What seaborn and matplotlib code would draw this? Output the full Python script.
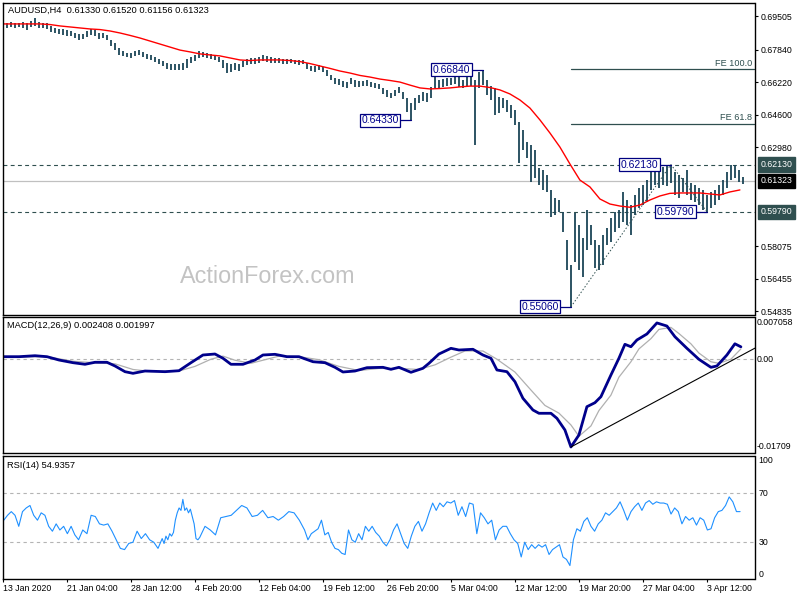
import numpy as np
import matplotlib
matplotlib.use('Agg')
import matplotlib.pyplot as plt
import seaborn as sns

# AUDUSD H4 bars (one reading every second bar)
highs = [0.6922, 0.6917, 0.6922, 0.6917, 0.6917, 0.6922, 0.6917, 0.6927, 0.6942, 0.6922,
         0.6917, 0.6917, 0.6902, 0.6892, 0.6887, 0.6887, 0.6882, 0.6877, 0.6867, 0.6862,
         0.6862, 0.6877, 0.6887, 0.6882, 0.6867, 0.6867, 0.6857, 0.6832, 0.6817, 0.6792,
         0.6778, 0.6768, 0.6768, 0.6778, 0.6782, 0.6773, 0.6763, 0.6758, 0.6748, 0.6738,
         0.6728, 0.6718, 0.6713, 0.6713, 0.6713, 0.6718, 0.6738, 0.6748, 0.6758, 0.6778,
         0.6773, 0.6768, 0.6763, 0.6758, 0.6748, 0.6733, 0.6718, 0.6713, 0.6718, 0.6713,
         0.6728, 0.6738, 0.6743, 0.6743, 0.6748, 0.6758, 0.6753, 0.6748, 0.6743, 0.6743,
         0.6738, 0.6738, 0.6738, 0.6733, 0.6733, 0.6733, 0.6718, 0.6703, 0.6703, 0.6708,
         0.6698, 0.6683, 0.6658, 0.6643, 0.6638, 0.6628, 0.6623, 0.6643, 0.6633, 0.6628,
         0.6628, 0.6633, 0.6623, 0.6618, 0.6613, 0.6594, 0.6584, 0.6569, 0.6584, 0.6599,
         0.6574, 0.6544, 0.6519, 0.6544, 0.6559, 0.6574, 0.6569, 0.6599, 0.6658, 0.6633,
         0.6638, 0.6643, 0.6643, 0.6653, 0.6648, 0.6633, 0.6668, 0.6658, 0.6633, 0.6673,
         0.6684, 0.6633, 0.6603, 0.6594, 0.6549, 0.6544, 0.6534, 0.6509, 0.6484, 0.6425,
         0.6385, 0.6325, 0.6310, 0.6286, 0.6196, 0.6186, 0.6161, 0.6087, 0.6047, 0.6037,
         0.5977, 0.5838, 0.5714, 0.5972, 0.5913, 0.5848, 0.5987, 0.5913, 0.5838, 0.5813,
         0.5863, 0.5898, 0.5948, 0.5977, 0.5987, 0.6077, 0.6037, 0.6012, 0.6062, 0.6097,
         0.6111, 0.6136, 0.6196, 0.6211, 0.6196, 0.6201, 0.6211, 0.6213, 0.6176, 0.6161,
         0.6146, 0.6186, 0.6121, 0.6111, 0.6097, 0.6087, 0.6062, 0.6077, 0.6087, 0.6111,
         0.6136, 0.6176, 0.6210, 0.6211, 0.6186, 0.6152]
lows = [0.6892, 0.6892, 0.6897, 0.6892, 0.6897, 0.6892, 0.6882, 0.6897, 0.6902, 0.6892,
        0.6892, 0.6887, 0.6872, 0.6867, 0.6862, 0.6857, 0.6852, 0.6852, 0.6842, 0.6832,
        0.6837, 0.6847, 0.6857, 0.6852, 0.6837, 0.6842, 0.6832, 0.6802, 0.6782, 0.6758,
        0.6753, 0.6748, 0.6743, 0.6753, 0.6758, 0.6748, 0.6738, 0.6733, 0.6723, 0.6713,
        0.6703, 0.6688, 0.6683, 0.6683, 0.6683, 0.6683, 0.6693, 0.6718, 0.6728, 0.6743,
        0.6748, 0.6743, 0.6738, 0.6733, 0.6723, 0.6693, 0.6668, 0.6673, 0.6683, 0.6678,
        0.6698, 0.6708, 0.6713, 0.6713, 0.6718, 0.6728, 0.6723, 0.6718, 0.6718, 0.6718,
        0.6713, 0.6713, 0.6718, 0.6713, 0.6708, 0.6713, 0.6688, 0.6678, 0.6673, 0.6683,
        0.6673, 0.6653, 0.6633, 0.6613, 0.6608, 0.6599, 0.6594, 0.6613, 0.6599, 0.6599,
        0.6603, 0.6603, 0.6599, 0.6594, 0.6589, 0.6564, 0.6549, 0.6544, 0.6554, 0.6569,
        0.6539, 0.6474, 0.6433, 0.6484, 0.6519, 0.6529, 0.6524, 0.6544, 0.6594, 0.6589,
        0.6599, 0.6603, 0.6608, 0.6613, 0.6599, 0.6594, 0.6603, 0.6603, 0.6310, 0.6594,
        0.6608, 0.6559, 0.6534, 0.6459, 0.6469, 0.6494, 0.6474, 0.6445, 0.6410, 0.6221,
        0.6286, 0.6246, 0.6126, 0.6146, 0.6111, 0.6087, 0.6077, 0.5953, 0.5962, 0.5977,
        0.5878, 0.5689, 0.5506, 0.5729, 0.5689, 0.5654, 0.5788, 0.5813, 0.5699, 0.5689,
        0.5714, 0.5813, 0.5828, 0.5878, 0.5898, 0.5928, 0.5913, 0.5863, 0.5962, 0.5997,
        0.6012, 0.6027, 0.6087, 0.6111, 0.6097, 0.6111, 0.6107, 0.6121, 0.6062, 0.6047,
        0.6077, 0.6062, 0.6037, 0.6027, 0.6012, 0.5987, 0.5979, 0.5997, 0.6012, 0.6037,
        0.6062, 0.6097, 0.6136, 0.6146, 0.6126, 0.6116]

# red moving average, one reading every 2.5 bars
ma_vals = [0.6912, 0.6912, 0.6912, 0.6912, 0.6912, 0.6909, 0.6902, 0.6897, 0.6892, 0.6887,
           0.6884, 0.6877, 0.6867, 0.6855, 0.6842, 0.6827, 0.6812, 0.6797, 0.6782, 0.6773,
           0.6763, 0.6758, 0.6753, 0.6743, 0.6733, 0.6730, 0.6733, 0.6733, 0.6733, 0.6730,
           0.6725, 0.6715, 0.6703, 0.6691, 0.6678, 0.6668, 0.6656, 0.6648, 0.6638, 0.6631,
           0.6623, 0.6608, 0.6594, 0.6589, 0.6591, 0.6594, 0.6599, 0.6603, 0.6603, 0.6596,
           0.6584, 0.6564, 0.6534, 0.6494, 0.6435, 0.6370, 0.6300, 0.6216, 0.6136, 0.6102,
           0.6042, 0.6017, 0.6007, 0.6001, 0.6012, 0.6037, 0.6057, 0.6070, 0.6072, 0.6072,
           0.6072, 0.6067, 0.6062, 0.6077, 0.6087]

# MACD(12,26,9)
macd_bars = [0, 4, 8, 11, 14, 17.5, 20.5, 23, 26, 28, 30.5, 32.5, 35.5, 40.5, 44,
             47, 50, 53, 55, 57, 60, 63, 65, 68, 71, 74, 77.5, 80.5, 83, 85,
             88, 91, 95, 97, 99, 102, 105, 106.5, 109, 112, 114, 117.5, 120, 122, 123.5,
             126, 128, 130, 132.5, 134, 137, 138.5, 140.5, 142, 144, 146, 148, 149.5, 152, 154,
             155.5, 157, 158.5, 161, 163.5, 166, 168, 171, 174, 177, 178.5, 181, 183, 184.5]
macd_vals = [0.00049, 0.00049, 0.00068, 0.00049, -0.00016, -0.00068, -0.00099, -0.00060, -0.00060, -0.00132,
             -0.00243, -0.00275, -0.00230, -0.00243, -0.00224, -0.00068, 0.00082, 0.00101, 0.00018, -0.00099,
             -0.00099, -0.00016, 0.00082, 0.00095, 0.00049, 0.00049, -0.00049, -0.00068, -0.00158, -0.00249,
             -0.00230, -0.00165, -0.00158, -0.00197, -0.00158, -0.00255, -0.00177, -0.00080, 0.00101, 0.00212,
             0.00179, 0.00193, 0.00082, 0.00018, -0.00210, -0.00243, -0.00438, -0.00761, -0.00989, -0.01053,
             -0.01053, -0.01151, -0.01378, -0.01709, -0.01476, -0.00925, -0.00847, -0.00730, -0.00308, 0.00018,
             0.00290, 0.00243, 0.00374, 0.00491, 0.00706, 0.00646, 0.00438, 0.00212, -0.00002, -0.00158,
             -0.00132, 0.00082, 0.00300, 0.00241]
sig_bars = [0, 11, 17.5, 23, 28, 32.5, 37, 44, 48, 52, 55, 58, 62, 65, 69, 74, 79, 84, 89, 94,
            99, 104, 108, 112, 115.5, 120, 123.5, 128, 132, 135.5, 139, 142, 144, 147, 149, 152, 154,
            157, 159, 162, 164, 167, 169, 172, 174, 177, 179, 182, 184.5]
sig_vals = [0.0004, 0.0005, -0.0004, -0.0007, -0.0009, -0.0020, -0.0024, -0.0023, -0.0014, 0.0000,
            0.0006, -0.0002, -0.0008, -0.0002, 0.0006, 0.0005, -0.0001, -0.0014, -0.0022, -0.0018,
            -0.0018, -0.0020, -0.0011, 0.0004, 0.0016, 0.0016, 0.0000, -0.0025, -0.0060, -0.0090,
            -0.0105, -0.0128, -0.0150, -0.0130, -0.0100, -0.0070, -0.0035, -0.0005, 0.0020, 0.0040,
            0.0058, 0.0062, 0.0050, 0.0030, 0.0012, -0.0005, -0.0008, 0.0000, 0.0020]
macd_trend_bars = [142, 188]
macd_trend_vals = [-0.01709, 0.00215]

# RSI(14)
rsi_vals = [48, 52, 55, 52, 43, 55, 58, 60, 52, 48, 54, 52, 43, 39, 45, 40, 43, 37, 43, 36,
            32, 40, 37, 52, 51, 45, 44, 45, 39, 32, 25, 24, 29, 30, 39, 33, 37, 32, 30, 25,
            33, 29, 35, 32, 37, 35, 38, 48, 54, 58, 56, 65, 56, 58, 54, 57, 51, 45, 33, 32,
            34, 43, 40, 36, 50, 51, 52, 56, 60, 58, 51, 52, 56, 50, 51, 48, 51, 55, 54, 48,
            40, 32, 37, 39, 41, 48, 36, 38, 30, 25, 24, 21, 20, 40, 32, 30, 37, 32, 43, 39,
            43, 38, 35, 30, 27, 32, 40, 45, 37, 29, 25, 35, 43, 47, 39, 45, 54, 62, 56, 62,
            59, 63, 62, 64, 52, 59, 51, 62, 61, 37, 54, 50, 45, 48, 32, 40, 43, 43, 37, 32,
            29, 18, 30, 24, 28, 25, 28, 26, 28, 20, 24, 26, 28, 18, 16, 11, 32, 41, 39, 47,
            50, 43, 39, 45, 48, 54, 52, 55, 58, 63, 56, 48, 55, 59, 62, 56, 62, 64, 61, 63,
            62, 62, 61, 53, 58, 55, 45, 51, 48, 50, 44, 50, 48, 40, 41, 50, 55, 56, 60, 67,
            63, 55, 55]
rsi_anchor_idx = [0, 20, 40, 60, 80, 100, 120, 140, 160, 180, 202]
rsi_anchor_bar = [0.2, 18.9, 39.8, 49.2, 75.4, 92.3, 110.1, 128.7, 146.1, 164.3, 184.3]

date_labels = ['13 Jan 2020', '21 Jan 04:00', '28 Jan 12:00', '4 Feb 20:00', '12 Feb 04:00',
               '19 Feb 12:00', '26 Feb 20:00', '5 Mar 04:00', '12 Mar 12:00', '19 Mar 20:00',
               '27 Mar 04:00', '3 Apr 12:00']
price_ticks = [0.69505, 0.67840, 0.66220, 0.64600, 0.62980, 0.58075, 0.56455, 0.54835]

swing_bars = [102, 120, 142, 167, 176]
swing_prices = [0.6433, 0.6684, 0.5506, 0.6213, 0.5979]
fe_ratios = [0.618, 1.0]
fe_names = ['FE 61.8', 'FE 100.0']
last_price = 0.61323

sns.set_theme(style='white')
plt.rcParams['font.family'] = ['Liberation Sans', 'DejaVu Sans']

BAR = '#1b4557'
SLATE = '#2f4f4f'
NAVY = '#000080'
XMIN, XMAX = -0.125, 187.9
FS = 6.3

fig = plt.figure(figsize=(8, 6), dpi=100)
ax = fig.add_axes([0.003125, 0.474167, 0.94, 0.520833])
axm = fig.add_axes([0.003125, 0.244167, 0.94, 0.226667])
axr = fig.add_axes([0.003125, 0.035, 0.94, 0.205833])

for a in (ax, axm, axr):
    a.set_xlim(XMIN, XMAX)
    a.set_facecolor('white')
    for s in a.spines.values():
        s.set_visible(True)
        s.set_color('black')
        s.set_linewidth(1.0)

# ---- price panel
ax.set_ylim(0.5463, 0.7016)
ax.axhline(last_price, color='#c0c0c0', lw=0.9)
for p in (0.6213, 0.5979):
    ax.axhline(p, color=SLATE, lw=0.8, ls=(0, (3.5, 3)))

bars = np.arange(len(highs))
ax.vlines(bars, lows, highs, color=BAR, lw=1.3)
ma_pos = np.arange(len(ma_vals)) * 2.5 - 0.75
sns.lineplot(x=ma_pos, y=ma_vals, ax=ax, color='red', linewidth=1.0)

lo1, hi1, lo2 = swing_prices[2], swing_prices[3], swing_prices[4]
for r, name in zip(fe_ratios, fe_names):
    lvl = lo2 + r * (hi1 - lo1)
    ax.plot([swing_bars[2], XMAX], [lvl, lvl], color=SLATE, lw=0.9)
    ax.annotate(name, xy=(XMAX, lvl), xytext=(-1.5, 1.2), textcoords='offset points',
                ha='right', va='bottom', fontsize=6.6, color=SLATE)
ax.plot(swing_bars[2:], swing_prices[2:], color=SLATE, lw=0.7, ls=(0, (1.5, 2)))

for b, p in zip(swing_bars, swing_prices):
    ax.plot([b - 2.75, b], [p, p], color=NAVY, lw=0.9)
    ax.text(b - 3.1, p, f'{p:.5f}', ha='right', va='center', fontsize=7.5, color='#00008b',
            bbox=dict(boxstyle='square,pad=0.15', fc='white', ec=NAVY, lw=0.9))

ax.text(44.25, 0.5626, 'ActionForex.com', fontsize=16.8, color='#c3c3c3',
        family='Liberation Sans', va='baseline', ha='left')

ax.set_xticks([])
ax.yaxis.tick_right()
ax.set_yticks(price_ticks)
ax.set_yticklabels([f'{v:.5f}' for v in price_ticks])
ax.tick_params(axis='y', right=True, left=False, length=2.2, width=0.8, direction='out',
               pad=2.5, labelsize=FS, colors='black')
for p, bg in [(0.6213, SLATE), (last_price, 'black'), (0.5979, SLATE)]:
    ax.text(1.0085, p, f'{p:.5f}', transform=ax.get_yaxis_transform(), ha='left', va='center',
            fontsize=FS, color='white', bbox=dict(boxstyle='square,pad=0.3', fc=bg, ec=bg))

fig.text(0.01, 0.9825, 'AUDUSD,H4  0.61330 0.61520 0.61156 0.61323', fontsize=6.7,
         va='center', ha='left', color='black')

# ---- MACD panel
axm.set_ylim(-0.01836, 0.00812)
axm.axhline(0, color='#b4b4b4', lw=0.8, ls=(0, (3, 3)))
sns.lineplot(x=sig_bars, y=sig_vals, ax=axm, color='#b0b0b0', linewidth=0.9)
sns.lineplot(x=macd_bars, y=macd_vals, ax=axm, color='#00008b', linewidth=2.0)
axm.plot(macd_trend_bars, macd_trend_vals, color='black', lw=0.8)
axm.set_xticks([])
axm.set_yticks([])
for v, s in [(0.007058, '0.007058'), (0.0, '0.00'), (-0.01709, '-0.01709')]:
    axm.text(1.003, v, s, transform=axm.get_yaxis_transform(), ha='left', va='center',
             fontsize=FS, color='black')
fig.text(0.009, 1 - 325.5 / 600, 'MACD(12,26,9) 0.002408 0.001997', fontsize=6.7,
         va='center', ha='left', color='black')

# ---- RSI panel
axr.set_ylim(0, 100.8)
for lvl in (70, 30):
    axr.axhline(lvl, color='#b4b4b4', lw=0.8, ls=(0, (3, 3)))
rsi_pos = np.interp(np.arange(len(rsi_vals)), rsi_anchor_idx, rsi_anchor_bar)
sns.lineplot(x=rsi_pos, y=rsi_vals, ax=axr, color='#1e90ff', linewidth=0.8)
axr.set_yticks([])
for v, s, va in [(100, '100', 'top'), (70, '70', 'center'), (30, '30', 'center'), (0, '0', 'bottom')]:
    axr.text(1.005, v, s, transform=axr.get_yaxis_transform(), ha='left', va=va,
             fontsize=FS, color='black')
fig.text(0.009, 1 - 465 / 600, 'RSI(14) 54.9357', fontsize=6.7, va='center', ha='left',
         color='black')

axr.set_xticks(np.arange(len(date_labels)) * 16)
axr.set_xticklabels(date_labels, ha='left')
axr.tick_params(axis='x', bottom=True, length=2.2, width=0.8, direction='out', pad=1.5,
                labelsize=FS, colors='black')

for a in (ax, axm, axr):
    a.set_xlabel('')
    a.set_ylabel('')
    a.set_xlim(XMIN, XMAX)

fig.savefig('out.png', dpi=100, facecolor='white')
